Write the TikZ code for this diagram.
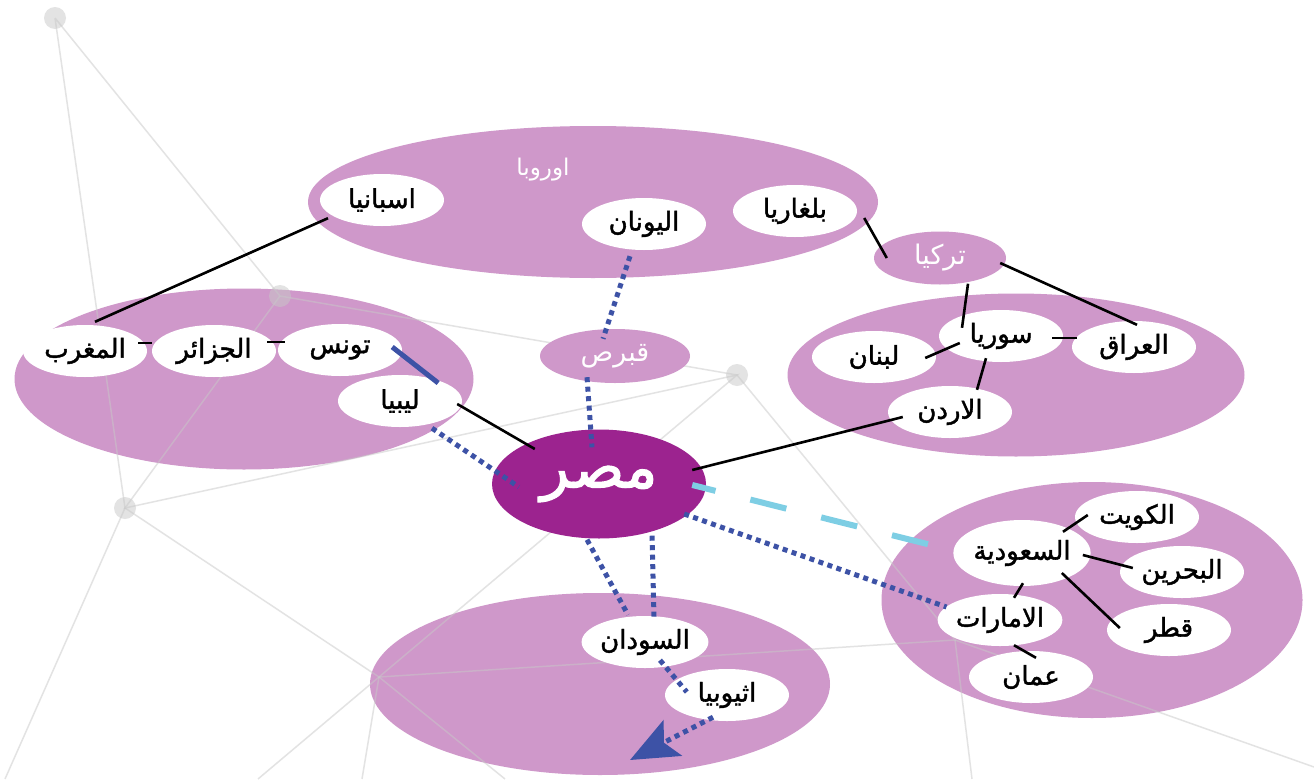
\documentclass[tikz,border=0pt]{standalone}
\usepackage{fontspec}
\newfontfamily\arabicfont[Script=Arabic]{DejaVu Sans}
\newfontfamily\arabicheavy[Script=Arabic, FakeBold=1.6]{DejaVu Sans}
\TeXXeTstate=1
\usetikzlibrary{shapes.geometric,arrows.meta}

\definecolor{regionpink}{RGB}{207,152,202}
\definecolor{egyptpurple}{RGB}{156,35,143}
\definecolor{seablue}{RGB}{61,82,166}
\definecolor{gulfcyan}{RGB}{126,206,228}
\definecolor{webgray}{RGB}{200,200,200}

\tikzset{
    region/.style={ellipse, fill=regionpink, inner sep=0pt},
    country/.style={ellipse, fill=white, inner sep=0pt, minimum width=124pt,
        minimum height=52pt, font=\arabicheavy\fontsize{26}{30}\selectfont},
    pinklabel/.style={ellipse, fill=regionpink, text=white, inner sep=0pt,
        font=\arabicfont\fontsize{27}{31}\selectfont},
    link/.style={draw=black, line width=2.6pt},
    searoute/.style={draw=seablue, line width=5pt, dash pattern=on 5pt off 4.5pt},
    gulfroute/.style={draw=gulfcyan, line width=6pt, dash pattern=on 37pt off 36pt,
        dash phase=13pt},
    web/.style={draw=webgray, line width=1.5pt, draw opacity=0.5},
    webdot/.style={circle, fill=webgray, fill opacity=0.5, minimum size=22pt, inner sep=0pt}
}

\begin{document}
\begin{tikzpicture}[x=1pt, y=-1pt]
    % Canvas
    \fill [white] (0,0) rectangle (1314,779);
    \useasboundingbox (0,0) rectangle (1314,779);

    % Regions
    \node [region, minimum width=570pt, minimum height=152pt] (europe) at (593,202) {};
    \node [region, minimum width=459pt, minimum height=181pt] (maghreb) at (244,379) {};
    \node [region, minimum width=457pt, minimum height=163pt] (levant) at (1016,375) {};
    \node [region, minimum width=421pt, minimum height=236pt] (gulf) at (1092,600) {};
    \node [region, minimum width=460pt, minimum height=182pt] (nile) at (600,684) {};

    % Background web
    \coordinate (w1) at (55,18);
    \coordinate (w2) at (280,296);
    \coordinate (w3) at (125,508);
    \coordinate (w4) at (379,677);
    \coordinate (w5) at (737,375);
    \coordinate (w6) at (955,640);
    \coordinate (e1) at (5,779);
    \coordinate (e2) at (258,779);
    \coordinate (e3) at (362,779);
    \coordinate (e4) at (505,779);
    \coordinate (e5) at (972,779);
    \coordinate (e6) at (1314,767);
    \draw [web] (w1) -- (w2) -- (w5) -- (w6) -- (w4) -- (w3) -- (w1);
    \draw [web] (w2) -- (w3) -- (w5) -- (w4);
    \draw [web] (w3) -- (e1);
    \draw [web] (w4) -- (e2);
    \draw [web] (w4) -- (e3);
    \draw [web] (w4) -- (e4);
    \draw [web] (w6) -- (e5);
    \draw [web] (w6) -- (e6);
    \node [webdot] (dot1) at (w1) {};
    \node [webdot] (dot2) at (w2) {};
    \node [webdot] (dot3) at (w3) {};
    \node [webdot] (dot5) at (w5) {};

    % Hubs
    \node [pinklabel, minimum width=132pt, minimum height=53pt] (turkey) at (940,258) {\beginR تركيا\endR};
    \node [pinklabel, minimum width=150pt, minimum height=54pt] (cyprus) at (615,356) {\beginR قبرص\endR};
    \node [ellipse, fill=egyptpurple, text=white, inner sep=0pt, minimum width=214pt,
        minimum height=109pt, font=\arabicheavy\fontsize{60}{64}\selectfont] (egypt) at (599,484) {\beginR مصر\endR};
    \node [text=white, font=\arabicfont\fontsize{23}{26}\selectfont] (europelabel) at (543,170) {\beginR اوروبا\endR};

    % Countries
    \node [country] (spain) at (382,200) {\beginR اسبانيا\endR};
    \node [country] (greece) at (644,224) {\beginR اليونان\endR};
    \node [country] (bulgaria) at (795,211) {\beginR بلغاريا\endR};
    \node [country] (morocco) at (85,351) {\beginR المغرب\endR};
    \node [country] (algeria) at (214,351) {\beginR الجزائر\endR};
    \node [country] (tunisia) at (340,350) {\beginR تونس\endR};
    \node [country] (libya) at (400,401) {\beginR ليبيا\endR};
    \node [country] (lebanon) at (874,357) {\beginR لبنان\endR};
    \node [country] (syria) at (1001,336) {\beginR سوريا\endR};
    \node [country] (iraq) at (1134,347) {\beginR العراق\endR};
    \node [country] (jordan) at (950,412) {\beginR الاردن\endR};
    \node [country] (kuwait) at (1137,517) {\beginR الكويت\endR};
    \node [country, minimum width=132pt, minimum height=66pt] (saudi) at (1022,553) {\beginR السعودية\endR};
    \node [country] (bahrain) at (1182,572) {\beginR البحرين\endR};
    \node [country] (qatar) at (1169,630) {\beginR قطر\endR};
    \node [country] (emirates) at (1000,620) {\beginR الامارات\endR};
    \node [country] (oman) at (1031,677) {\beginR عمان\endR};
    \node [country] (sudan) at (645,642) {\beginR السودان\endR};
    \node [country] (ethiopia) at (727,695) {\beginR اثيوبيا\endR};
    \coordinate (nilemouth) at (630,760);

    % Land links
    \draw [link] ([shift={(-54,-8)}]spain.south) -- ([shift={(10,-3)}]morocco.north);
    \draw [link] ([shift={(-9,-8)}]morocco.east) -- ([shift={(0,-8)}]algeria.west);
    \draw [link] ([shift={(-9,-9)}]algeria.east) -- ([shift={(7,-8)}]tunisia.west);
    \draw [link] ([shift={(-5,3)}]libya.east) -- ([shift={(43,-35)}]egypt.west);
    \draw [link] ([shift={(7,7)}]bulgaria.east) -- ([shift={(13,0)}]turkey.west);
    \draw [link] ([shift={(28,-1)}]turkey.south) -- ([shift={(-39,18)}]syria.north);
    \draw [link] ([shift={(-6,5)}]turkey.east) -- ([shift={(3,4)}]iraq.north);
    \draw [link] ([shift={(-11,2)}]syria.east) -- ([shift={(5,-9)}]iraq.west);
    \draw [link] ([shift={(21,7)}]syria.west) -- ([shift={(-11,1)}]lebanon.east);
    \draw [link] ([shift={(-15,-4)}]syria.south) -- ([shift={(27,4)}]jordan.north);
    \draw [link] ([shift={(15,5)}]jordan.west) -- ([shift={(-14,-14)}]egypt.east);
    \draw [link] ([shift={(41,12)}]saudi.north) -- ([shift={(13,-2)}]kuwait.west);
    \draw [link] ([shift={(-8,2)}]saudi.east) -- ([shift={(13,-4)}]bahrain.west);
    \draw [link] ([shift={(-29,20)}]saudi.east) -- ([shift={(13,-2)}]qatar.west);
    \draw [link] ([shift={(1,-3)}]saudi.south) -- ([shift={(14,4)}]emirates.north);
    \draw [link] ([shift={(14,-1)}]emirates.south) -- ([shift={(5,7)}]oman.north);

    % Sea routes
    \draw [draw=seablue, line width=5pt] ([shift={(-10,-3)}]tunisia.east) -- ([shift={(-24,-18)}]libya.east);
    \draw [searoute] ([shift={(32,1)}]libya.south) -- ([shift={(27,3)}]egypt.west);
    \draw [searoute] ([shift={(-14,6)}]greece.south) -- ([shift={(-12,10)}]cyprus.north);
    \draw [searoute] ([shift={(-28,-6)}]cyprus.south) -- ([shift={(-7,18)}]egypt.north);
    \draw [searoute] ([shift={(-12,1)}]egypt.south) -- ([shift={(-17,-1)}]sudan.north);
    \draw [searoute] ([shift={(53,-3)}]egypt.south) -- ([shift={(9,1)}]sudan.north);
    \draw [searoute] ([shift={(-22,30)}]egypt.east) -- ([shift={(9,-13)}]emirates.west);
    \draw [searoute] ([shift={(15,-8)}]sudan.south) -- ([shift={(22,-3)}]ethiopia.west);
    \draw [searoute, -{Stealth[length=48pt, width=40pt, inset=10pt]}]
        ([shift={(-14,-4)}]ethiopia.south) -- (nilemouth);
    \draw [gulfroute] ([shift={(-14,1)}]egypt.east) -- ([shift={(-14,-6)}]saudi.west);
\end{tikzpicture}
\end{document}
